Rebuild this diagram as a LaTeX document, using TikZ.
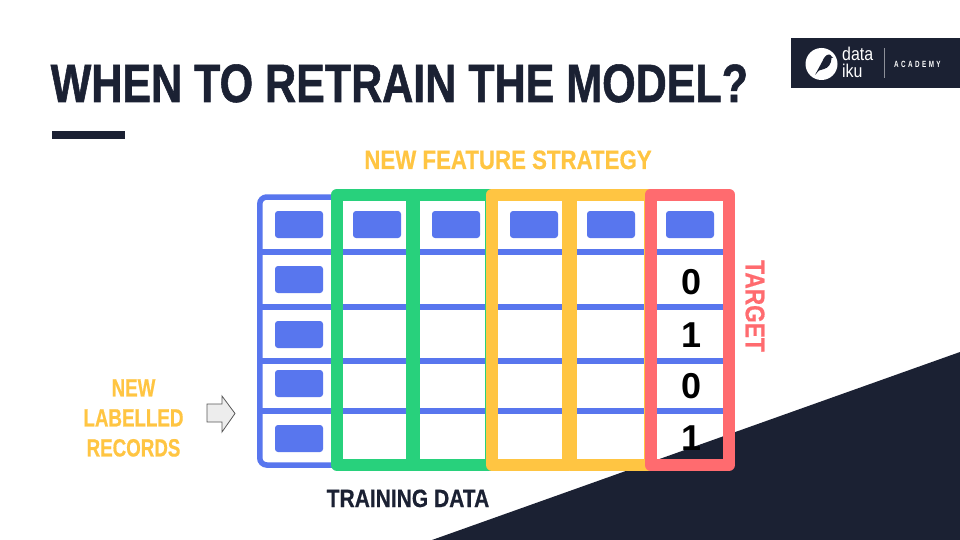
\documentclass[tikz,border=0pt]{standalone}
\usepackage{fontspec}
\setmainfont{Liberation Sans}
\newfontfamily\headfont[FakeStretch=0.797,FakeBold=1]{Liberation Sans Bold}
\newfontfamily\widefont[FakeStretch=0.84,FakeBold=0.5]{Liberation Sans Bold}
\newfontfamily\narrowfont[FakeStretch=0.75,FakeBold=0.5]{Liberation Sans Bold}
\newfontfamily\wordfont[FakeStretch=0.86]{Liberation Sans}
\newfontfamily\logofont[FakeStretch=0.7,LetterSpace=27]{Liberation Sans Bold}
\definecolor{navyc}{HTML}{1B2133}
\definecolor{bluec}{HTML}{5876EE}
\definecolor{greenc}{HTML}{28D17C}
\definecolor{yellowc}{HTML}{FFC542}
\definecolor{redc}{HTML}{FF6B6F}
\begin{document}
\begin{tikzpicture}[
x=1pt,y=-1pt,
cell/.style={fill=bluec,rounded corners=3pt,minimum width=48pt,minimum height=27pt,inner sep=0pt},
rowline/.style={draw=bluec,line width=6pt},
frame/.style={line width=12pt,line join=round},
label/.style={inner sep=0pt},
digit/.style={inner sep=0pt,anchor=base,font=\fontsize{36}{36}\selectfont\bfseries}
]
\useasboundingbox (0,0) rectangle (960,540);
\fill[white] (0,0) rectangle (960,540);
\fill[navyc] (960,352) -- (960,540) -- (432,540) -- cycle;
\fill[navyc] (791,38) rectangle (960,88);
\node[label,anchor=base west,text=navyc,font=\headfont\fontsize{54}{54}\selectfont] (title) at (50.5,102) {WHEN TO RETRAIN THE MODEL?};
\fill[navyc] (52,131) rectangle (124.5,139.5);
\node[label,anchor=base,text=yellowc,font=\widefont\fontsize{26.5}{26.5}\selectfont] (strategy) at (508,169) {NEW FEATURE STRATEGY};
\draw[draw=bluec,line width=5.5pt,rounded corners=7pt] (259.75,197) rectangle (729,465);
\foreach \y in {252,307,361,411} {
  \draw[rowline] (260,\y) -- (729,\y);
}
\foreach \y/\n in {224.5/a,279.5/b,334.5/c,383.5/d,438.5/e} {
  \node[cell] (left\n) at (299,\y) {};
}
\foreach \x/\n in {377/a,456/b,534/c,611/d,690/e} {
  \node[cell] (head\n) at (\x,224.5) {};
}
\draw[frame,draw=greenc] (337,194.5) rectangle (412,465);
\draw[frame,draw=greenc] (414,194.5) rectangle (491,465);
\draw[frame,draw=yellowc] (492,194.5) rectangle (568,465);
\draw[frame,draw=yellowc] (571,194.5) rectangle (650,465);
\draw[frame,draw=redc] (650.5,194.5) rectangle (729,465);
\node[digit] (zeroa) at (691,294) {0};
\node[digit] (onea) at (691,347) {1};
\node[digit] (zerob) at (691,398) {0};
\node[digit] (oneb) at (691,450) {1};
\node[label,rotate=-90,text=redc,font=\widefont\fontsize{27}{27}\selectfont] (target) at (755,306) {TARGET};
\node[label,anchor=base,text=navyc,font=\widefont\fontsize{25}{25}\selectfont] (training) at (408,507) {TRAINING DATA};
\node[label,text=yellowc,align=center,font=\narrowfont\fontsize{25}{30}\selectfont] (records) at (133.5,418) {NEW\\LABELLED\\RECORDS};
\draw[draw=black!65,fill=black!7,line width=0.8pt] (207,404) -- (222,404) -- (222,396) -- (235,413.5) -- (222,432) -- (222,422) -- (207,422) -- cycle;
\fill[white] (821.5,64) circle (16);
\fill[navyc] (815,75) -- (822,62) .. controls (824,57.5) and (826,54.5) .. (829,54.5) .. controls (830.5,54.5) and (831,55.5) .. (831.5,56.5) -- (833,57.5) -- (831.5,58) .. controls (831.5,64) and (828,68) .. (824,69) -- (819,70.5) -- cycle;
\node[inner sep=0pt,anchor=base west,text=white,font=\wordfont\fontsize{18.5}{18.5}\selectfont] (data) at (842,61) {data};
\node[inner sep=0pt,anchor=base west,text=white,font=\wordfont\fontsize{18.5}{18.5}\selectfont] (iku) at (842,78) {iku};
\draw[draw=white!50!navyc,line width=0.8pt] (884,48) -- (884,78);
\node[inner sep=0pt,anchor=base west,text=white,font=\logofont\fontsize{9}{9}\selectfont] (academy) at (894,68) {ACADEMY};
\end{tikzpicture}
\end{document}
